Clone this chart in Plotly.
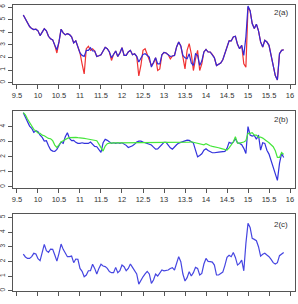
import plotly.graph_objects as go

# time axis (regularly sampled)
x_start, x_step, n_pts = 9.65, 0.05, 125
x_vals = [round(x_start + x_step * k, 2) for k in range(n_pts)]

a_blue = [5.36, 5.04, 4.69, 4.45, 4.29, 4.21, 4.24, 4.11, 3.73, 4.03,
          4.27, 4.11, 3.68, 3.47, 3.39, 2.96, 2.61, 3.23, 4.24, 3.95,
          3.79, 3.89, 3.81, 3.63, 3.15, 3.31, 2.88, 2.35, 2.16, 2.08,
          2.56, 2.56, 2.77, 2.51, 2.51, 2.08, 2.13, 2.21, 2.51, 2.80,
          2.69, 2.43, 1.97, 2.24, 2.51, 2.08, 2.35, 2.77, 2.16, 2.16,
          2.43, 2.56, 2.21, 2.29, 2.08, 1.63, 1.97, 2.24, 2.29, 2.16,
          2.03, 1.23, 1.55, 1.97, 1.49, 1.49, 2.21, 2.40, 2.35, 2.21,
          2.08, 2.11, 2.16, 2.83, 3.23, 2.91, 2.16, 1.97, 1.89, 2.29,
          1.55, 1.36, 2.29, 2.16, 1.36, 1.71, 2.43, 2.64, 2.43, 2.43,
          2.24, 1.97, 1.36, 1.44, 1.55, 1.81, 2.29, 2.83, 3.31, 3.31,
          3.63, 3.68, 3.04, 2.69, 2.96, 2.16, 3.63, 6.08, 5.71, 4.69,
          4.29, 4.64, 4.11, 3.23, 2.83, 3.36, 3.23, 2.96, 2.16, 1.36,
          0.56, 0.21, 2.29, 2.56, 2.61]

a_red = [5.36, 5.04, 4.69, 4.45, 4.29, 4.21, 4.24, 4.11, 3.73, 4.03,
         4.27, 4.11, 3.68, 3.47, 3.39, 2.96, 2.35, 3.23, 4.24, 3.95,
         3.79, 3.89, 3.81, 3.63, 3.15, 3.31, 2.88, 2.35, 1.49, 0.69,
         2.69, 2.88, 2.56, 2.69, 2.51, 2.08, 2.13, 2.21, 2.51, 2.80,
         2.69, 2.43, 1.76, 2.24, 2.51, 2.08, 2.35, 2.77, 2.16, 2.16,
         2.43, 2.56, 2.21, 2.29, 2.08, 0.53, 1.36, 2.56, 2.69, 2.29,
         1.89, 1.36, 1.55, 1.97, 0.96, 1.09, 2.21, 2.40, 2.35, 2.21,
         1.89, 2.11, 2.16, 2.83, 3.23, 2.91, 2.03, 1.09, 2.56, 3.09,
         2.29, 0.96, 1.89, 2.56, 0.96, 1.49, 2.43, 2.64, 2.43, 2.43,
         2.24, 1.97, 1.36, 1.44, 1.55, 1.81, 2.29, 2.83, 3.31, 3.31,
         3.63, 3.68, 3.04, 2.69, 2.96, 1.49, 1.23, 5.97, 5.71, 4.69,
         4.29, 4.64, 4.11, 3.23, 2.83, 3.36, 3.23, 2.96, 2.16, 1.36,
         0.56, 0.21, 2.29, 2.56, 2.61]

b_blue = [4.93, 4.62, 4.36, 4.04, 3.89, 3.62, 3.73, 3.67, 3.44, 3.29,
          3.04, 3.07, 2.73, 2.47, 2.38, 2.36, 2.49, 2.78, 2.98, 2.89,
          3.33, 3.60, 3.22, 3.07, 3.09, 2.96, 2.89, 2.89, 2.93, 2.89,
          2.87, 2.89, 2.98, 2.82, 2.69, 2.67, 2.44, 2.29, 2.93, 3.16,
          3.09, 2.96, 2.89, 2.93, 2.89, 2.93, 2.89, 2.93, 2.87, 2.76,
          2.62, 2.67, 2.73, 2.84, 2.98, 3.04, 3.04, 2.98, 2.93, 2.89,
          2.84, 2.78, 2.64, 2.51, 2.53, 2.67, 2.80, 2.96, 2.96, 2.76,
          2.60, 2.51, 2.67, 2.80, 2.91, 2.96, 3.00, 3.07, 3.11, 3.09,
          3.00, 2.91, 2.44, 2.00, 2.09, 2.20, 2.44, 2.53, 2.42, 2.33,
          2.27, 2.27, 2.27, 2.31, 2.33, 2.33, 2.36, 2.56, 2.96, 2.89,
          2.98, 3.20, 2.93, 2.89, 2.80, 2.56, 2.22, 4.00, 3.44, 3.38,
          3.42, 3.16, 3.44, 2.44, 2.93, 2.89, 2.44, 2.18, 1.71, 1.29,
          0.89, 0.44, 1.56, 2.22, 1.96]

b_green = [4.93, 4.78, 4.51, 4.27, 4.00, 3.82, 3.71, 3.58, 3.56, 3.44,
           3.40, 3.31, 3.22, 3.20, 3.07, 2.78, 2.62, 2.80, 2.98, 3.07,
           3.16, 3.22, 3.27, 3.29, 3.29, 3.29, 3.27, 3.27, 3.24, 3.22,
           3.20, 3.18, 3.16, 3.16, 3.13, 3.07, 2.84, 2.56, 2.38, 2.71,
           2.87, 2.91, 2.93, 2.93, 2.93, 2.93, 2.93, 2.93, 2.93, 2.93,
           2.96, 2.93, 2.93, 2.93, 2.93, 2.93, 2.98, 2.93, 2.93, 2.93,
           2.93, 2.93, 2.93, 2.93, 2.93, 2.93, 2.93, 2.93, 2.93, 2.93,
           2.93, 2.96, 2.96, 2.96, 2.96, 2.96, 2.96, 2.96, 2.96, 2.98,
           3.00, 2.96, 2.91, 2.89, 2.87, 2.84, 2.80, 2.87, 2.78, 2.73,
           2.69, 2.67, 2.64, 2.60, 2.56, 2.53, 2.49, 2.44, 2.60, 2.78,
           2.98, 3.33, 2.91, 2.91, 2.93, 2.98, 3.07, 3.56, 3.56, 3.60,
           3.44, 3.44, 3.29, 3.31, 3.24, 3.16, 3.04, 2.93, 2.80, 2.67,
           2.40, 1.96, 1.96, 2.29, 2.16]

c_blue = [2.50, 2.30, 2.20, 2.20, 2.32, 2.55, 2.50, 2.18, 2.05, 2.59,
          3.16, 2.73, 2.61, 2.84, 2.82, 2.43, 2.02, 2.55, 3.18, 2.82,
          2.59, 2.32, 2.32, 2.36, 1.91, 2.16, 2.14, 1.52, 1.32, 0.95,
          1.07, 1.36, 1.36, 1.80, 1.52, 1.14, 1.52, 1.80, 1.68, 1.64,
          1.52, 1.30, 1.23, 1.23, 1.59, 1.23, 1.36, 1.75, 1.64, 1.36,
          1.52, 1.82, 1.59, 1.36, 1.14, 0.45, 0.73, 0.95, 1.14, 1.32,
          1.14, 0.50, 0.73, 1.14, 1.00, 1.23, 1.41, 1.36, 1.41, 1.41,
          1.52, 1.57, 1.41, 1.86, 2.32, 1.98, 1.14, 0.66, 0.89, 1.30,
          1.00, 1.23, 1.59, 1.52, 1.07, 1.18, 1.82, 2.20, 2.00, 1.98,
          1.95, 1.75, 1.07, 1.07, 1.18, 1.27, 1.73, 2.27, 2.41, 2.32,
          2.61, 2.27, 1.75, 1.86, 2.09, 1.36, 3.23, 4.59, 4.32, 3.57,
          3.50, 3.41, 3.00, 2.36, 2.48, 2.55, 2.43, 2.32, 2.14, 1.91,
          1.82, 1.91, 2.39, 2.48, 2.61]

x_ticks = [9.5, 10, 10.5, 11, 11.5, 12, 12.5, 13, 13.5, 14, 14.5, 15, 15.5, 16]
x_labels = ["9.5", "10", "10.5", "11", "11.5", "12", "12.5", "13", "13.5", "14", "14.5", "15", "15.5", "16"]
a_ticks = [0, 1, 2, 3, 4, 5, 6]
b_ticks = [0, 1, 2, 3, 4]
c_ticks = [0, 1, 2, 3, 4, 5]
panel_labels = ["2(a)", "2(b)", "2(c)"]

W, H = 298, 304
FONT = "Liberation Sans"
AX = "#555555"

fig = go.Figure()
fig.add_trace(go.Scatter(x=x_vals, y=a_red, mode="lines", line=dict(color="rgb(240,50,50)", width=1.2), xaxis="x", yaxis="y"))
fig.add_trace(go.Scatter(x=x_vals, y=a_blue, mode="lines", line=dict(color="rgb(50,40,215)", width=1.2), xaxis="x", yaxis="y"))
fig.add_trace(go.Scatter(x=x_vals, y=b_blue, mode="lines", line=dict(color="rgb(50,50,220)", width=1.2), xaxis="x2", yaxis="y2"))
fig.add_trace(go.Scatter(x=x_vals, y=b_green, mode="lines", line=dict(color="rgb(70,230,60)", width=1.2), xaxis="x2", yaxis="y2"))
fig.add_trace(go.Scatter(x=x_vals, y=c_blue, mode="lines", line=dict(color="rgb(70,70,225)", width=1.2), xaxis="x3", yaxis="y3"))

xdom = [13 / W, 295 / W]
doms = [[(H - 84) / H, (H - 5) / H], [(H - 188) / H, (H - 111) / H], [(H - 291) / H, (H - 214) / H]]
yranges = [[-0.11, 6.16], [-0.07, 5.04], [-0.02, 5.23]]
yticks = [a_ticks, b_ticks, c_ticks]

common_x = dict(range=[9.405, 16.119], tickvals=x_ticks, ticktext=x_labels, showgrid=False, zeroline=False,
                showline=True, mirror=True, linecolor=AX, linewidth=1, ticks="outside", ticklen=4,
                tickcolor=AX, tickfont=dict(family=FONT, size=7.5, color="#333333"), automargin=False)
common_y = dict(showgrid=False, zeroline=False, showline=True, mirror=True, linecolor=AX, linewidth=1,
                ticks="outside", ticklen=4, tickcolor=AX, tickangle=-90,
                tickfont=dict(family=FONT, size=6.5, color="#333333"), automargin=False)

layout = dict(width=W, height=H, margin=dict(l=0, r=0, t=0, b=0), showlegend=False,
              paper_bgcolor="white", plot_bgcolor="white")
for k in range(3):
    sx = "" if k == 0 else str(k + 1)
    xa = dict(common_x, domain=xdom, anchor="y" + sx)
    if k == 2:
        xa["showticklabels"] = False
    ya = dict(common_y, domain=doms[k], range=yranges[k], tickvals=yticks[k],
              ticktext=[str(t) for t in yticks[k]], anchor="x" + sx)
    layout["xaxis" + sx] = xa
    layout["yaxis" + sx] = ya
fig.update_layout(**layout)

ann_y = [13, 119, 224]
for k in range(3):
    fig.add_annotation(x=281 / W, y=(H - ann_y[k]) / H, xref="paper", yref="paper", text=panel_labels[k],
                       showarrow=False, font=dict(family=FONT, size=8, color="#333333"),
                       xanchor="center", yanchor="middle")

fig.write_html("out.html")
